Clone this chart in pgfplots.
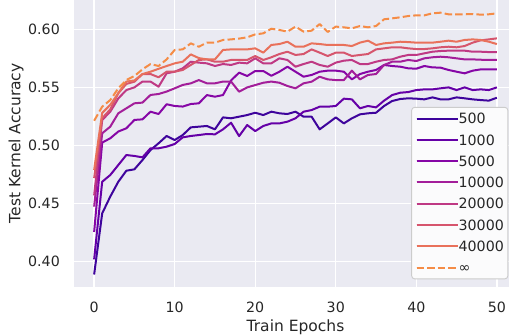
\documentclass[border=0pt]{standalone}
\usepackage{fontspec}
\setmainfont{DejaVu Sans}
\usepackage{pgfplots}
\usepackage{pgfplotstable}
\pgfplotsset{compat=1.18}
\definecolor{bg}{HTML}{EAEAF2}
\definecolor{txt}{HTML}{262626}
\definecolor{legfill}{HTML}{FBFBFC}
\definecolor{legdraw}{HTML}{CCCCCC}
\definecolor{cA}{HTML}{3E049C}
\definecolor{cB}{HTML}{6500A7}
\definecolor{cC}{HTML}{8606A6}
\definecolor{cD}{HTML}{A31E9A}
\definecolor{cE}{HTML}{BF3984}
\definecolor{cF}{HTML}{D6556D}
\definecolor{cG}{HTML}{E9715B}
\definecolor{cH}{HTML}{F58C46}
\pgfplotstableread{
e s500 s1000 s5000 s10000 s20000 s30000 s40000 sinf
0 0.389 0.402 0.4256 0.4474 0.457 0.472 0.479 0.5213
1 0.4416 0.4688 0.5025 0.5105 0.522 0.5235 0.528 0.5334
2 0.456 0.4746 0.5062 0.5162 0.529 0.531 0.535 0.5391
3 0.4688 0.4832 0.512 0.5277 0.5405 0.545 0.545 0.5492
4 0.4783 0.4918 0.5148 0.532 0.5477 0.553 0.555 0.5563
5 0.4795 0.491 0.522 0.5363 0.55 0.5549 0.556 0.5598
6 0.4875 0.4898 0.5225 0.5369 0.555 0.5615 0.5615 0.5655
7 0.4961 0.4976 0.5291 0.5435 0.555 0.5615 0.5635 0.5701
8 0.5019 0.4976 0.5271 0.5443 0.5506 0.5587 0.566 0.5684
9 0.5082 0.499 0.5355 0.5464 0.5621 0.5635 0.5684 0.5741
10 0.5047 0.5013 0.534 0.5492 0.5635 0.5635 0.5707 0.5822
11 0.509 0.507 0.5335 0.5521 0.5664 0.565 0.5721 0.5827
12 0.5156 0.5082 0.5357 0.5535 0.5721 0.5693 0.5784 0.5879
13 0.5162 0.509 0.5363 0.5563 0.5713 0.5736 0.5752 0.585
14 0.5168 0.5099 0.5434 0.5535 0.5707 0.5741 0.5741 0.5885
15 0.5139 0.5096 0.542 0.5535 0.5684 0.5721 0.5741 0.5885
16 0.5242 0.5139 0.5434 0.555 0.5701 0.5721 0.5822 0.5908
17 0.5234 0.5196 0.556 0.555 0.5693 0.5736 0.5827 0.5913
18 0.5248 0.5081 0.5627 0.5463 0.5713 0.5736 0.5827 0.592
19 0.5262 0.5176 0.5598 0.55 0.5707 0.5736 0.5827 0.5931
20 0.5282 0.5124 0.5641 0.552 0.575 0.577 0.5836 0.5956
21 0.5262 0.5168 0.5641 0.554 0.5707 0.5736 0.5799 0.5965
22 0.5291 0.519 0.56 0.555 0.5707 0.5759 0.5865 0.6005
23 0.5277 0.519 0.5635 0.554 0.575 0.5787 0.5873 0.5994
24 0.5271 0.5205 0.5678 0.5512 0.5736 0.5807 0.5893 0.598
25 0.5291 0.5234 0.5635 0.5492 0.5678 0.5779 0.585 0.6023
26 0.5248 0.5291 0.5592 0.5535 0.5701 0.5787 0.585 0.598
27 0.5248 0.5305 0.5607 0.5549 0.5721 0.5827 0.5879 0.5988
28 0.5139 0.5334 0.5635 0.5592 0.5693 0.5799 0.5873 0.6045
29 0.519 0.5334 0.5644 0.5569 0.5678 0.577 0.5865 0.5977
30 0.5242 0.534 0.5644 0.5563 0.5713 0.5799 0.5865 0.6023
31 0.519 0.5403 0.5635 0.5563 0.573 0.5799 0.5865 0.6017
32 0.5234 0.5397 0.5569 0.5644 0.5736 0.577 0.5856 0.6008
33 0.5268 0.532 0.5615 0.5569 0.5701 0.5779 0.5885 0.6028
34 0.5277 0.534 0.5635 0.5607 0.5701 0.5787 0.5902 0.6017
35 0.5282 0.5328 0.565 0.5615 0.5721 0.5827 0.5865 0.6028
36 0.534 0.5386 0.5693 0.5693 0.5736 0.5836 0.5879 0.6086
37 0.5383 0.5434 0.5684 0.5721 0.5741 0.5845 0.5885 0.6094
38 0.54 0.5454 0.5678 0.5721 0.5764 0.5845 0.5893 0.6103
39 0.5406 0.546 0.5664 0.5736 0.5779 0.5836 0.589 0.6114
40 0.5403 0.5477 0.5661 0.5727 0.5779 0.583 0.5885 0.612
41 0.5397 0.5483 0.5684 0.575 0.5793 0.583 0.5885 0.612
42 0.5414 0.5483 0.5672 0.5759 0.5807 0.5836 0.5885 0.6137
43 0.5397 0.5492 0.567 0.5764 0.5813 0.5845 0.5893 0.6143
44 0.5397 0.55 0.565 0.5759 0.5816 0.585 0.5902 0.6129
45 0.5414 0.5477 0.5635 0.575 0.5816 0.5845 0.5893 0.6129
46 0.5406 0.55 0.5621 0.5741 0.5816 0.5856 0.5908 0.6129
47 0.5397 0.5477 0.5644 0.5741 0.5807 0.5885 0.5913 0.6131
48 0.5391 0.5483 0.5655 0.5738 0.5807 0.5905 0.5908 0.6126
49 0.5386 0.5477 0.5655 0.5736 0.5804 0.5913 0.5893 0.6129
50 0.5411 0.55 0.5655 0.5736 0.5804 0.5922 0.5873 0.6137
}\datatable
\begin{document}
\begin{tikzpicture}
\begin{axis}[
  name=ax,
  scale only axis,
  width=443pt, height=286.7pt,
  xmin=-2.5, xmax=52.5,
  ymin=0.3785, ymax=0.6252,
  axis background/.style={fill=bg},
  axis line style={draw=none},
  major tick length=0pt,
  tick style={draw=none},
  grid=major,
  major grid style={white, line width=1.3pt},
  xtick={0,10,20,30,40,50},
  ytick={0.40,0.45,0.50,0.55,0.60},
  /pgf/number format/assume math mode=true,
  every tick label/.append style={inner sep=0pt, text=txt, font=\fontsize{14.2pt}{17pt}\selectfont},
  xticklabel style={anchor=north, yshift=-15pt},
  yticklabel style={anchor=east, xshift=-14pt, /pgf/number format/.cd, fixed, fixed zerofill, precision=2},
  xlabel={Train Epochs},
  ylabel={Test Kernel Accuracy},
  every axis x label/.style={at={(axis description cs:0.5,-0.1162)}, anchor=north, inner sep=0pt, text=txt, font=\fontsize{15.5pt}{18pt}\selectfont},
  every axis y label/.style={at={(axis description cs:-0.1483,0.5)}, rotate=90, anchor=south, inner sep=0pt, yshift=-15.5pt, text=txt, font=\fontsize{15.5pt}{18pt}\selectfont},
  legend cell align=left,
  legend image code/.code={\draw[#1] (0pt,0pt) -- (30pt,0pt); \path (0pt,0pt) -- (41pt,0pt);},
  legend style={at={(axis description cs:1,0)}, anchor=south east, xshift=-8.7pt, yshift=7.4pt,
    fill=legfill, draw=legdraw, line width=0.9pt, rounded corners=3pt,
    inner xsep=4pt, inner ysep=6pt,
    font=\fontsize{14.2pt}{17pt}\selectfont, text=txt,
    nodes={inner sep=0pt, text height=10.4pt, text depth=0pt},
    row sep=10.9pt},
  every axis plot/.append style={line width=2pt, line join=round},
]
\addplot[cA] table[x=e, y=s500] {\datatable};
\addlegendentry{500}
\addplot[cB] table[x=e, y=s1000] {\datatable};
\addlegendentry{1000}
\addplot[cC] table[x=e, y=s5000] {\datatable};
\addlegendentry{5000}
\addplot[cD] table[x=e, y=s10000] {\datatable};
\addlegendentry{10000}
\addplot[cE] table[x=e, y=s20000] {\datatable};
\addlegendentry{20000}
\addplot[cF] table[x=e, y=s30000] {\datatable};
\addlegendentry{30000}
\addplot[cG] table[x=e, y=s40000] {\datatable};
\addlegendentry{40000}
\addplot[cH, dash pattern=on 7.4pt off 3.2pt] table[x=e, y=sinf] {\datatable};
\addlegendentry{∞}
\end{axis}
\pgfresetboundingbox
\path[use as bounding box] ([xshift=-74pt,yshift=-48.3pt]ax.south west) rectangle ([xshift=435pt]ax.north west);
\end{tikzpicture}
\end{document}
